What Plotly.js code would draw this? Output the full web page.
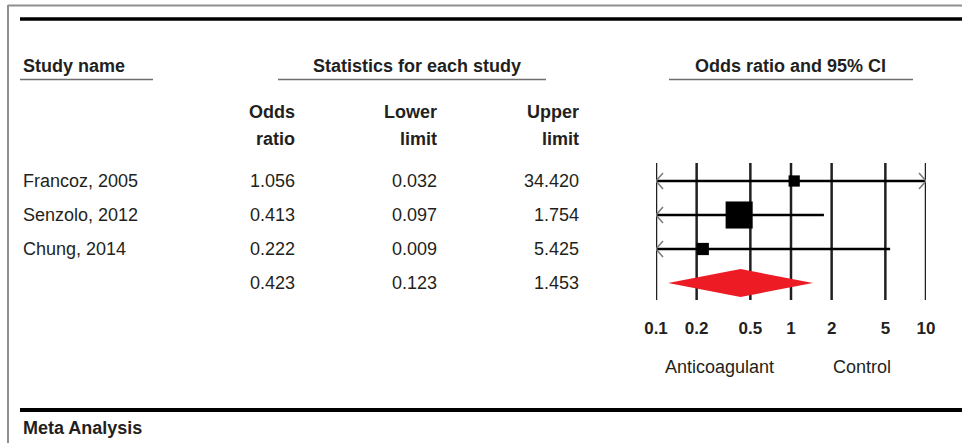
<!DOCTYPE html>
<html>
<head>
<meta charset="utf-8">
<script src="https://cdn.plot.ly/plotly-3.0.1.min.js"></script>
<style>html,body{margin:0;padding:0;background:#fff;}#chart{width:962px;height:443px;}</style>
</head>
<body>
<div id="chart"></div>
<script>
// ---- data ----
const studies = ["Francoz, 2005", "Senzolo, 2012", "Chung, 2014"];
const oddsRatio = [1.056, 0.413, 0.222];
const lowerLimit = [0.032, 0.097, 0.009];
const upperLimit = [34.420, 1.754, 5.425];
const summaryOR = 0.423;
const summaryLower = 0.123;
const summaryUpper = 1.453;
const tickValues = [0.1, 0.2, 0.5, 1, 2, 5, 10];
const tickLabels = ["0.1", "0.2", "0.5", "1", "2", "5", "10"];
const favoursLeft = "Anticoagulant";
const favoursRight = "Control";

// ---- geometry helpers ----
const W = 962, H = 443;
const px = x => x / W;
const py = y => 1 - y / H;
const ROW0 = 181, ROWH = 34;            // pixel y of first row, row spacing
const rowOf = yPix => (yPix - ROW0) / ROWH;
const XMIN = 0.1, XMAX = 10, DEC_PX = 135; // pixels per decade
const shiftPx = (v, p) => v * Math.pow(10, p / DEC_PX);

const txtColor = "#231f20";
const FONT = "Liberation Sans, Arial, sans-serif";

const traces = [];

// vertical reference lines at each tick
const gx = [], gy = [];
tickValues.forEach(t => { gx.push(t, t, null); gy.push(rowOf(163), rowOf(300), null); });
traces.push({x: gx, y: gy, mode: "lines", line: {color: txtColor, width: 2.5}, hoverinfo: "skip", showlegend: false});

// CI lines (clipped to axis range) and arrows
const cx = [], cy = [], ax = [], ay = [];
studies.forEach((s, i) => {
  const lo = Math.max(lowerLimit[i], XMIN), hi = Math.min(upperLimit[i], XMAX);
  cx.push(lo, hi, null); cy.push(i, i, null);
  if (lowerLimit[i] < XMIN) {
    ax.push(shiftPx(XMIN, 7), XMIN, shiftPx(XMIN, 7), null);
    ay.push(i - 8 / ROWH, i, i + 8 / ROWH, null);
  }
  if (upperLimit[i] > XMAX) {
    ax.push(shiftPx(XMAX, -7), XMAX, shiftPx(XMAX, -7), null);
    ay.push(i - 8 / ROWH, i, i + 8 / ROWH, null);
  }
});
traces.push({x: cx, y: cy, mode: "lines", line: {color: "#000", width: 2.5}, hoverinfo: "skip", showlegend: false});
traces.push({x: ax, y: ay, mode: "lines", line: {color: "#7a7a7a", width: 1.5}, hoverinfo: "skip", showlegend: false});

// squares sized by inverse-variance weight
const weights = studies.map((s, i) => {
  const se = (Math.log(upperLimit[i]) - Math.log(lowerLimit[i])) / 3.92;
  return 1 / (se * se);
});
const sizes = weights.map(w => 20 * Math.sqrt(w));
traces.push({
  x: oddsRatio, y: studies.map((s, i) => i), mode: "markers", opacity: 1,
  marker: {symbol: "square", size: sizes, color: "#000000", opacity: 1, line: {width: 0}},
  hoverinfo: "skip", showlegend: false
});

// summary diamond
const sr = studies.length, dh = 14 / ROWH;
traces.push({
  x: [summaryLower, summaryOR, summaryUpper, summaryOR, summaryLower],
  y: [sr, sr - dh, sr, sr + dh, sr],
  mode: "lines", fill: "toself", fillcolor: "#ed1c24", line: {width: 0, color: "#ed1c24"},
  hoverinfo: "skip", showlegend: false
});

// ---- annotations ----
const ann = [];
const bold = (text, x, y, xanchor) => ({text, xref: "paper", yref: "paper", x: px(x), y: py(y), xanchor, yanchor: "middle", showarrow: false, font: {family: FONT, size: 18, color: txtColor, weight: "bold"}});
const reg = (text, x, y, xanchor) => ({text, xref: "paper", yref: "paper", x: px(x), y: py(y), xanchor, yanchor: "middle", showarrow: false, font: {family: FONT, size: 18, color: txtColor}});

ann.push(bold("Study name", 21, 66, "left"));
ann.push(bold("Statistics for each study", 417, 66, "center"));
ann.push(bold("Odds ratio and 95% CI", 790, 66, "center"));
ann.push(bold("Odds", 297, 112, "right"));
ann.push(bold("ratio", 297, 139, "right"));
ann.push(bold("Lower", 439, 112, "right"));
ann.push(bold("limit", 439, 139, "right"));
ann.push(bold("Upper", 581, 112, "right"));
ann.push(bold("limit", 581, 139, "right"));
ann.push(bold("Meta Analysis", 21, 428, "left"));
ann.push(reg(favoursLeft, 719, 367, "center"));
ann.push(reg(favoursRight, 862, 367, "center"));

const rowText = (text, x, row, xanchor) => ({text, xref: "paper", yref: "y", x: px(x), y: row, xanchor, yanchor: "middle", showarrow: false, font: {family: FONT, size: 18, color: txtColor}});
studies.forEach((s, i) => {
  ann.push(rowText(s, 21, i, "left"));
  ann.push(rowText(oddsRatio[i].toFixed(3), 297, i, "right"));
  ann.push(rowText(lowerLimit[i].toFixed(3), 439, i, "right"));
  ann.push(rowText(upperLimit[i].toFixed(3), 581, i, "right"));
});
ann.push(rowText(summaryOR.toFixed(3), 297, sr, "right"));
ann.push(rowText(summaryLower.toFixed(3), 439, sr, "right"));
ann.push(rowText(summaryUpper.toFixed(3), 581, sr, "right"));

// ---- frame lines ----
const line = (x0, y0, x1, y1, color, width) => ({type: "line", xref: "paper", yref: "paper", x0: px(x0), y0: py(y0), x1: px(x1), y1: py(y1), line: {color, width}});
const shapes = [
  line(8, 5.5, 962, 5.5, "#8f8f8f", 2),
  line(8, 5, 8, 443, "#8f8f8f", 2),
  line(20, 19, 962, 19, "#000", 3.5),
  line(20, 410, 962, 410, "#000", 4),
  line(20, 79.5, 153, 79.5, "#6f6f6f", 1.5),
  line(278, 79.5, 546, 79.5, "#6f6f6f", 1.5),
  line(669, 79.5, 913, 79.5, "#6f6f6f", 1.5)
];

const layout = {
  width: W, height: H,
  margin: {l: 0, r: 0, t: 0, b: 0},
  paper_bgcolor: "#fff", plot_bgcolor: "rgba(0,0,0,0)",
  showlegend: false,
  xaxis: {
    type: "log", range: [Math.log10(XMIN), Math.log10(XMAX)],
    domain: [px(656), px(926)], anchor: "free", position: py(316),
    tickvals: tickValues, ticktext: tickLabels, ticks: "",
    showgrid: false, zeroline: false, showline: false,
    tickfont: {family: FONT, size: 17, color: txtColor, weight: "bold"},
    fixedrange: true
  },
  yaxis: {
    range: [rowOf(H), rowOf(0)], domain: [0, 1],
    visible: false, fixedrange: true
  },
  annotations: ann,
  shapes: shapes
};

Plotly.newPlot("chart", traces, layout, {staticPlot: true, displayModeBar: false});
</script>
</body>
</html>
